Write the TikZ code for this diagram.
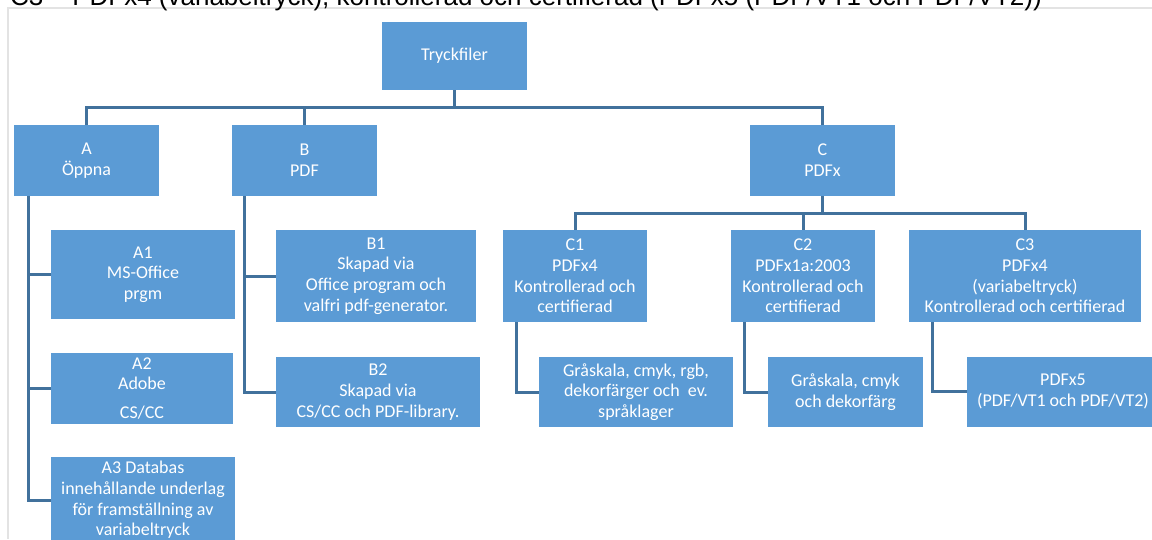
\documentclass[tikz,border=0pt]{standalone}
\usepackage{fontspec}
\setmainfont{Carlito}
\newfontfamily\hdrfont{Liberation Sans}
\definecolor{boxblue}{HTML}{5B9BD5}
\definecolor{linkblue}{HTML}{41719C}
\definecolor{framegray}{HTML}{E3E3E3}
\begin{document}
\begin{tikzpicture}[x=1pt,y=-1pt,
  box/.style={fill=boxblue, text=white, align=center, inner sep=0pt,
    font=\fontsize{18}{20.7}\selectfont},
  link/.style={draw=linkblue, line width=3pt}]
\useasboundingbox (0,0) rectangle (1152,539);
\clip (0,0) rectangle (1152,539);
\draw[framegray, line width=1.2pt] (8,539) -- (8,8) -- (1152,8);
\node[anchor=base west, inner sep=0pt, font=\hdrfont\fontsize{26}{30}\selectfont] (hdr) at (10,5)
  {C3 – PDFx4 (variabeltryck), kontrollerad och certifierad (PDFx5 (PDF/VT1 och PDF/VT2))};
% level 0/1
\node[box, minimum width=145pt, minimum height=68pt] (T) at (454.5,56) {Tryckfiler};
\node[box, minimum width=145pt, minimum height=71pt] (A) at (86.5,160.5) {A\\Öppna};
\node[box, minimum width=145pt, minimum height=71pt] (B) at (304.5,160.5) {B\\PDF};
\node[box, minimum width=145pt, minimum height=71pt] (C) at (822.5,160.5) {C\\PDFx};
% A children
\node[box, minimum width=184pt, minimum height=89pt] (A1) at (143,274.5) {A1\\MS-Office\\prgm};
\node[box, minimum width=182pt, minimum height=71pt] (A2) at (142,388.5) {A2\\Adobe\\[8pt]CS/CC};
\node[box, minimum width=184pt, minimum height=86pt] (A3) at (143,500) {A3 Databas\\innehållande underlag\\för framställning av\\variabeltryck};
% B children
\node[box, minimum width=200pt, minimum height=92pt] (B1) at (376,276) {B1\\Skapad via\\Office program och\\valfri pdf-generator.};
\node[box, minimum width=204pt, minimum height=70pt] (B2) at (378,392) {B2\\Skapad via\\CS/CC och PDF-library.};
% C children
\node[box, minimum width=144pt, minimum height=92pt] (C1) at (575,276) {C1\\PDFx4\\Kontrollerad och\\certifierad};
\node[box, minimum width=144pt, minimum height=92pt] (C2) at (803,276) {C2\\PDFx1a:2003\\Kontrollerad och\\certifierad};
\node[box, minimum width=232pt, minimum height=92pt] (C3) at (1025,276) {C3\\PDFx4\\(variabeltryck)\\Kontrollerad och certifierad};
\node[box, minimum width=194pt, minimum height=70pt] (C1c) at (636,392) {Gråskala, cmyk, rgb,\\dekorfärger och\ \ ev.\\språklager};
\node[box, minimum width=155pt, minimum height=70pt] (C2c) at (845.5,392) {Gråskala, cmyk\\och dekorfärg};
\node[box, minimum width=192pt, minimum height=70pt] (C3c) at (1063,391.5) {PDFx5\\(PDF/VT1 och PDF/VT2)};
% connectors
\coordinate (bus1) at (0,107);
\coordinate (bus2) at (0,213);
\coordinate (ra) at (28,0);
\coordinate (rb) at (244,0);
\coordinate (rc1) at (516,0);
\coordinate (rc2) at (744,0);
\coordinate (rc3) at (932,0);
\draw[link] (A.north) -- (A.north |- bus1) -- (C.north |- bus1) -- (C.north);
\draw[link] (B.north) -- (B.north |- bus1);
\draw[link] (T.south) -- (T.south |- bus1);
\draw[link] (C1.north) -- (C1.north |- bus2) -- (C3.north |- bus2) -- (C3.north);
\draw[link] (C2.north) -- (C2.north |- bus2);
\draw[link] (C.south) -- (C.south |- bus2);
\draw[link] (A.south -| ra) -- (A3.west -| ra) -- (A3.west);
\draw[link] (A1.west -| ra) -- (A1.west);
\draw[link] (A2.west -| ra) -- (A2.west);
\draw[link] (B.south -| rb) -- (B2.west -| rb) -- (B2.west);
\draw[link] (B1.west -| rb) -- (B1.west);
\draw[link] (C1.south -| rc1) -- (C1c.west -| rc1) -- (C1c.west);
\draw[link] (C2.south -| rc2) -- (C2c.west -| rc2) -- (C2c.west);
\draw[link] (C3.south -| rc3) -- (C3c.west -| rc3) -- (C3c.west);
\end{tikzpicture}
\end{document}
